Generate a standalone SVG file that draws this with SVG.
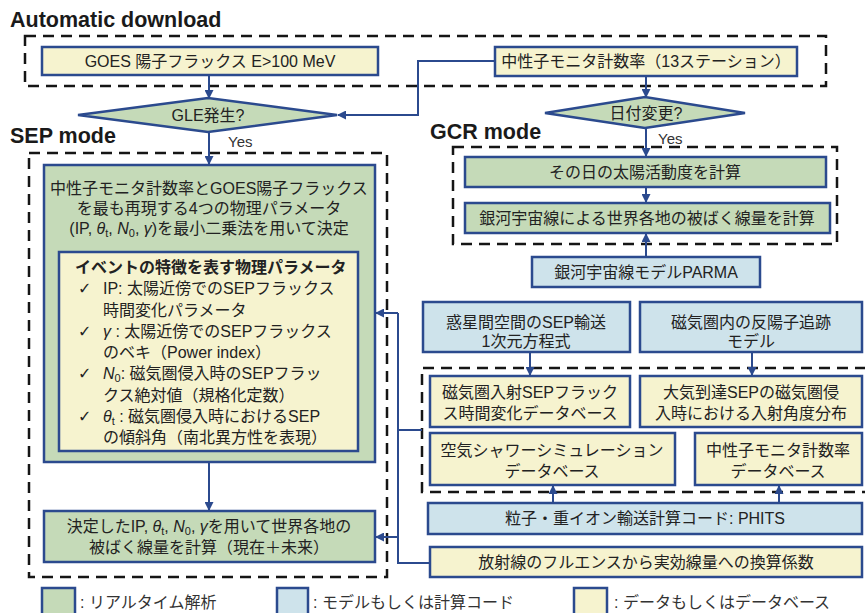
<svg xmlns="http://www.w3.org/2000/svg" width="865" height="613" viewBox="0 0 865 613">
<defs>
<style>
.t{font-family:"Liberation Sans","Noto Sans CJK JP",sans-serif;font-size:16px;fill:#222}
.c{text-anchor:middle}
.h{font-family:"Liberation Sans","Noto Sans CJK JP",sans-serif;font-size:21.5px;font-weight:bold;fill:#1a1a1a}
.yes{font-family:"Liberation Sans",sans-serif;font-size:15px;fill:#333}
.g{fill:#c5dab8;stroke:#2b4a8e;stroke-width:2.5}
.b{fill:#cee3eb;stroke:#2b4a8e;stroke-width:2.5}
.y{fill:#f6f3cf;stroke:#2b4a8e;stroke-width:2.5}
.d{fill:none;stroke:#151515;stroke-width:2.5;stroke-dasharray:11 7}
.cn{fill:none;stroke:#2b4a8e;stroke-width:2}
.ar{marker-end:url(#ah)}
.ck{font-family:"DejaVu Sans",sans-serif;font-size:16px;fill:#222}
.i{font-style:italic}
.lg{font-family:"Liberation Sans","Noto Sans CJK JP",sans-serif;font-size:16px;fill:#333}
</style>
<marker id="ah" markerUnits="userSpaceOnUse" markerWidth="9" markerHeight="9" refX="8" refY="4.5" orient="auto">
<path d="M0,0 L9,4.5 L0,9 z" fill="#2b4a8e"/>
</marker>
</defs>
<rect width="865" height="613" fill="#ffffff"/>

<!-- section labels and dashed groups -->
<text class="h" x="10" y="27">Automatic download</text>
<text class="h" x="10" y="143">SEP mode</text>
<text class="h" x="430" y="139">GCR mode</text>
<rect class="d" x="25" y="36" width="801" height="50"/>
<rect class="d" x="29" y="153" width="358" height="424"/>
<rect class="d" x="453" y="147" width="384" height="97"/>
<path class="d" d="M866,368 H422 V492 H866"/>

<!-- connectors -->
<g id="connectors">
<path class="cn ar" d="M209,75 V98"/>
<path class="cn ar" d="M495,61 H418 V115 H338"/>
<path class="cn ar" d="M646,76 V97"/>
<path class="cn ar" d="M209,132 V164"/>
<path class="cn ar" d="M646,128 V156"/>
<path class="cn ar" d="M646,187 V202"/>
<path class="cn ar" d="M646,257 V234"/>
<path class="cn ar" d="M209,462 V510"/>
<path class="cn" d="M398,313 V563 H430"/>
<path class="cn ar" d="M398,313 H376"/>
<path class="cn ar" d="M398,537 H376"/>
<path class="cn" d="M398,430 H422"/>
<path class="cn ar" d="M530,352 V375"/>
<path class="cn ar" d="M752,352 V375"/>
<path class="cn ar" d="M553,503 V486"/>
<path class="cn ar" d="M779,503 V486"/>
</g>
<text class="yes" x="228" y="147">Yes</text>
<text class="yes" x="658" y="144">Yes</text>

<!-- automatic download -->
<g id="goes">
<rect class="y" x="42" y="47" width="336" height="28"/>
<text class="t c" x="210" y="67">GOES 陽子フラックス E&gt;100 MeV</text>
</g>
<g id="nm">
<rect class="y" x="495" y="47" width="302" height="29"/>
<text class="t c" x="646" y="67">中性子モニタ計数率（13ステーション）</text>
</g>
<g id="gle">
<path class="g" d="M78,115 L208,98 L337,115 L208,132 z"/>
<text class="t c" x="208" y="121">GLE発生?</text>
</g>
<g id="date">
<path class="g" d="M545,113 L645,97 L745,113 L645,128 z"/>
<text class="t c" x="646" y="119">日付変更?</text>
</g>

<!-- SEP mode -->
<g id="fit">
<rect class="g" x="44" y="165" width="331" height="297"/>
<text class="t c" x="209" y="194">中性子モニタ計数率とGOES陽子フラックス</text>
<text class="t c" x="209" y="214">を最も再現する4つの物理パラメータ</text>
<text class="t c" x="209" y="234">(IP, <tspan class="i">θ</tspan><tspan font-size="11" dy="3">t</tspan><tspan dy="-3">, </tspan><tspan class="i">N</tspan><tspan font-size="11" dy="3">0</tspan><tspan dy="-3">, </tspan><tspan class="i">γ</tspan>)を最小二乗法を用いて決定</text>
</g>
<g id="params">
<rect class="y" x="59" y="252" width="299" height="199"/>
<text class="t" x="75" y="273" font-weight="bold">イベントの特徴を表す物理パラメータ</text>
<text class="ck" x="78" y="294">✓</text>
<text class="t" x="103" y="294">IP: 太陽近傍でのSEPフラックス</text>
<text class="t" x="103" y="316">時間変化パラメータ</text>
<text class="ck" x="78" y="337">✓</text>
<text class="t" x="103" y="337"><tspan class="i">γ</tspan> : 太陽近傍でのSEPフラックス</text>
<text class="t" x="103" y="358">のベキ（Power index）</text>
<text class="ck" x="78" y="379">✓</text>
<text class="t" x="103" y="379"><tspan class="i">N</tspan><tspan font-size="11" dy="3">0</tspan><tspan dy="-3">: 磁気圏侵入時のSEPフラッ</tspan></text>
<text class="t" x="103" y="401">クス絶対値（規格化定数）</text>
<text class="ck" x="78" y="422">✓</text>
<text class="t" x="103" y="422"><tspan class="i">θ</tspan><tspan font-size="11" dy="3">t</tspan><tspan dy="-3"> : 磁気圏侵入時におけるSEP</tspan></text>
<text class="t" x="103" y="443">の傾斜角（南北異方性を表現）</text>
</g>
<g id="sepdose">
<rect class="g" x="44" y="511" width="331" height="51"/>
<text class="t c" x="209" y="532">決定したIP, <tspan class="i">θ</tspan><tspan font-size="11" dy="3">t</tspan><tspan dy="-3">, </tspan><tspan class="i">N</tspan><tspan font-size="11" dy="3">0</tspan><tspan dy="-3">, </tspan><tspan class="i">γ</tspan>を用いて世界各地の</text>
<text class="t c" x="209" y="553">被ばく線量を計算（現在＋未来）</text>
</g>

<!-- GCR mode -->
<g id="solar">
<rect class="g" x="465" y="157" width="361" height="30"/>
<text class="t c" x="645" y="178">その日の太陽活動度を計算</text>
</g>
<g id="gcrdose">
<rect class="g" x="465" y="203" width="365" height="30"/>
<text class="t c" x="647" y="224" font-size="16.5">銀河宇宙線による世界各地の被ばく線量を計算</text>
</g>
<g id="parma">
<rect class="b" x="532" y="257" width="228" height="30"/>
<text class="t c" x="646" y="278">銀河宇宙線モデルPARMA</text>
</g>

<!-- models and databases -->
<g id="ipt">
<rect class="b" x="423" y="302" width="207" height="50"/>
<text class="t c" x="526" y="328">惑星間空間のSEP輸送</text>
<text class="t c" x="526" y="347">1次元方程式</text>
</g>
<g id="trace">
<rect class="b" x="640" y="302" width="222" height="50"/>
<text class="t c" x="751" y="328">磁気圏内の反陽子追跡</text>
<text class="t c" x="751" y="347">モデル</text>
</g>
<g id="db1">
<rect class="y" x="430" y="376" width="200" height="51"/>
<text class="t c" x="530" y="398">磁気圏入射SEPフラック</text>
<text class="t c" x="530" y="419">ス時間変化データベース</text>
</g>
<g id="db2">
<rect class="y" x="640" y="376" width="222" height="51"/>
<text class="t c" x="751" y="398">大気到達SEPの磁気圏侵</text>
<text class="t c" x="751" y="419">入時における入射角度分布</text>
</g>
<g id="db3">
<rect class="y" x="430" y="433" width="245" height="52"/>
<text class="t c" x="552" y="456">空気シャワーシミュレーション</text>
<text class="t c" x="552" y="477">データベース</text>
</g>
<g id="db4">
<rect class="y" x="695" y="433" width="167" height="52"/>
<text class="t c" x="778" y="456">中性子モニタ計数率</text>
<text class="t c" x="778" y="477">データベース</text>
</g>
<g id="phits">
<rect class="b" x="428" y="503" width="434" height="31"/>
<text class="t c" x="645" y="524">粒子・重イオン輸送計算コード: PHITS</text>
</g>
<g id="coef">
<rect class="y" x="430" y="547" width="432" height="30"/>
<text class="t c" x="646" y="568">放射線のフルエンスから実効線量への換算係数</text>
</g>

<!-- legend -->
<g id="legend">
<rect class="g" x="42" y="588" width="33" height="30"/>
<text class="lg" x="80" y="608">: リアルタイム解析</text>
<rect class="b" x="277" y="588" width="31" height="30"/>
<text class="lg" x="313" y="608">: モデルもしくは計算コード</text>
<rect class="y" x="574" y="588" width="33" height="30"/>
<text class="lg" x="614" y="608">: データもしくはデータベース</text>
</g>
</svg>
